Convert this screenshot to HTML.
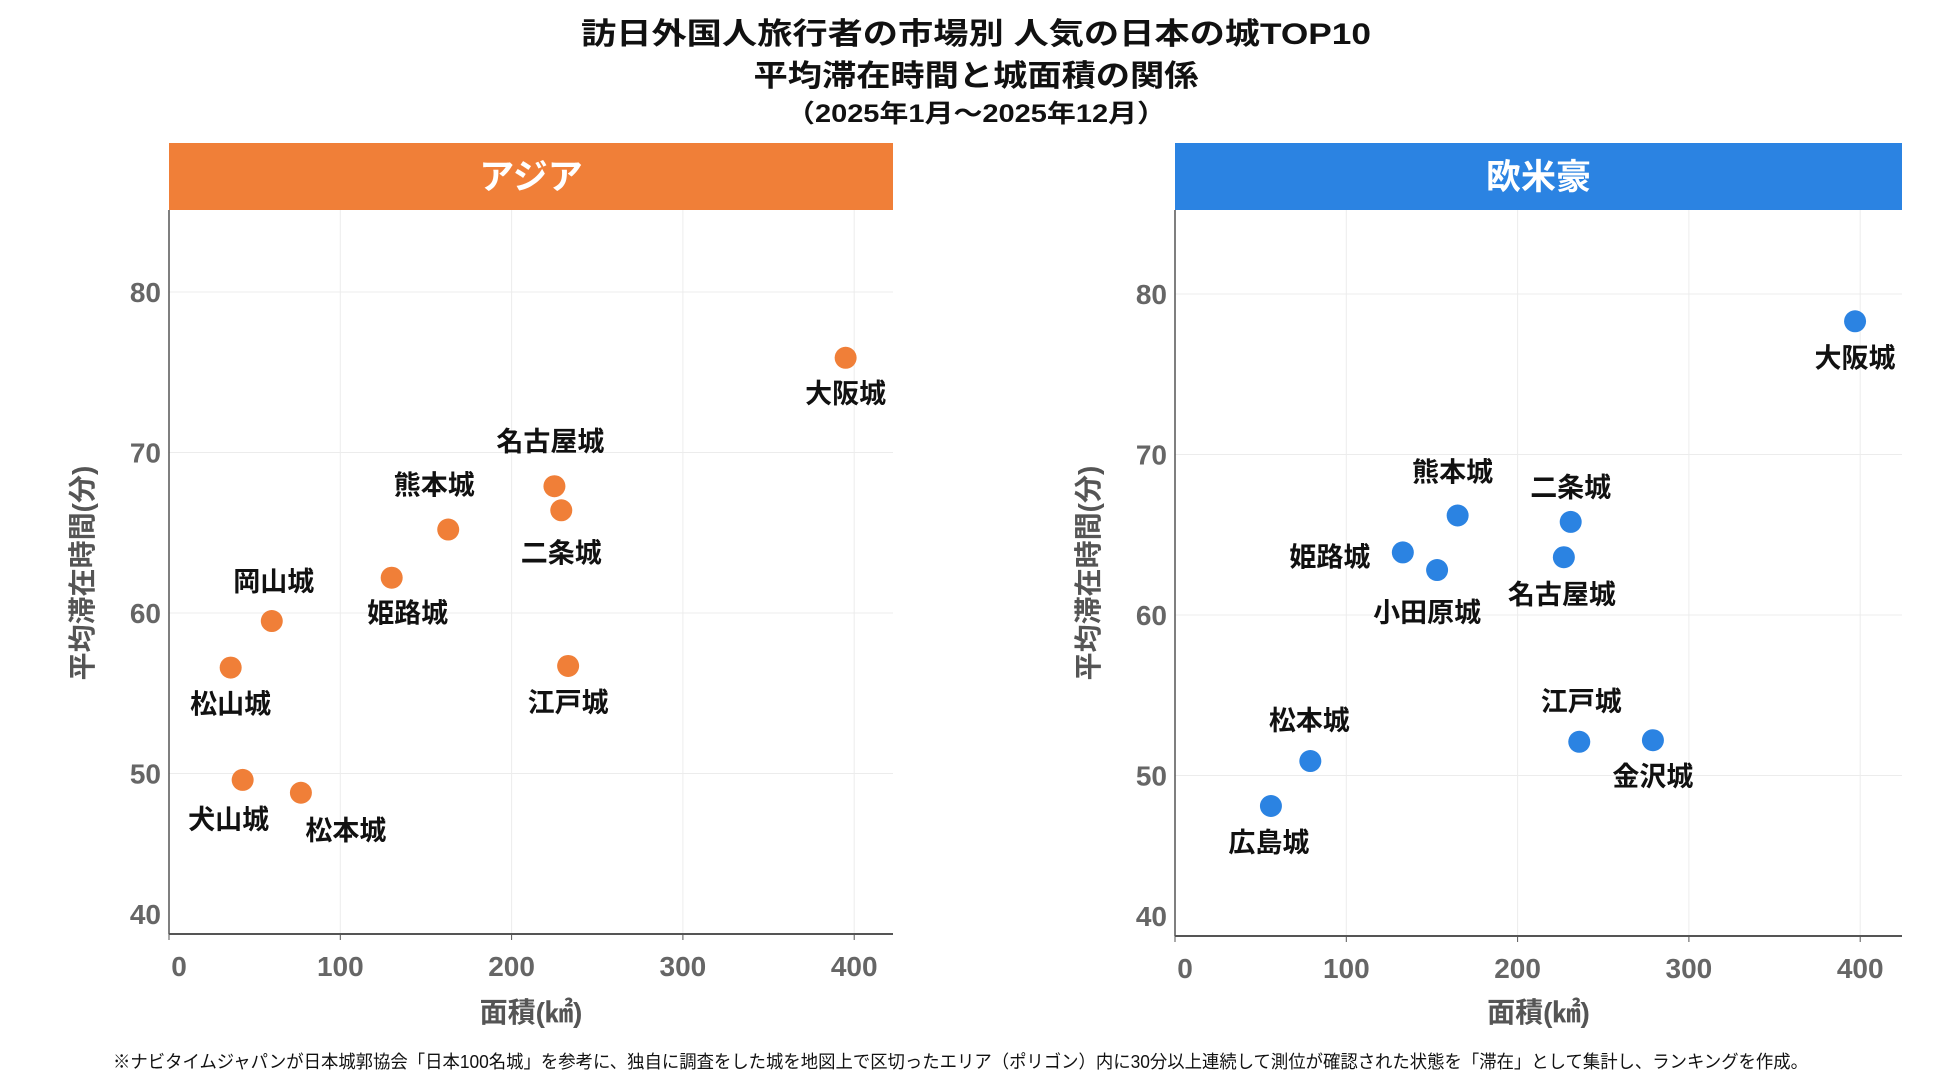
<!DOCTYPE html>
<html><head><meta charset="utf-8">
<style>
html,body{margin:0;padding:0;background:#fff;}
svg{display:block;font-family:"Liberation Sans","Noto Sans CJK JP",sans-serif;}
</style></head>
<body>
<svg id="chart" width="1948" height="1083" viewBox="0 0 1948 1083" xmlns="http://www.w3.org/2000/svg">
<text x="976" y="44" text-anchor="middle" font-size="30" font-weight="bold" fill="#111" textLength="790" lengthAdjust="spacingAndGlyphs">訪日外国人旅行者の市場別 人気の日本の城TOP10</text>
<text x="976" y="86" text-anchor="middle" font-size="30" font-weight="bold" fill="#111" textLength="445" lengthAdjust="spacingAndGlyphs">平均滞在時間と城面積の関係</text>
<text x="976" y="122" text-anchor="middle" font-size="25" font-weight="bold" fill="#111" textLength="380" lengthAdjust="spacingAndGlyphs">（2025年1月～2025年12月）</text>
<text x="113" y="1068" font-size="18" fill="#111" textLength="1695" lengthAdjust="spacingAndGlyphs">※ナビタイムジャパンが日本城郭協会「日本100名城」を参考に、独自に調査をした城を地図上で区切ったエリア（ポリゴン）内に30分以上連続して測位が確認された状態を「滞在」として集計し、ランキングを作成。</text>
</svg>
<script>
// Asia panel data
const asiaNames = ["大阪城","名古屋城","二条城","熊本城","姫路城","岡山城","松山城","江戸城","犬山城","松本城"];
const asiaArea = [395,225,229,163,130,60,36,233,43,77];
const asiaStay = [75.9,67.9,66.4,65.2,62.2,59.5,56.6,56.7,49.6,48.8];
// Europe/US/Australia panel data
const euNames = ["大阪城","熊本城","二条城","姫路城","名古屋城","小田原城","江戸城","金沢城","松本城","広島城"];
const euArea = [397,165,231,133,227,153,236,279,79,56];
const euStay = [78.3,66.2,65.8,63.9,63.6,62.8,52.1,52.2,50.9,48.1];
const xTicks = [0,100,200,300,400];
const yTicks = [40,50,60,70,80];

// label placement offsets (layout, px)
const asiaLabelOff = [[0,35],[-4,-45],[0,42],[-14,-45],[16,35],[2,-40],[0,36],[0,36],[-14,39],[45,37]];
const euLabelOff = [[0,36],[-5,-44],[0,-35],[-73,4],[-2,37],[-10,42],[2,-41],[0,36],[-1,-41],[-2,36]];

const NS = "http://www.w3.org/2000/svg";
const svg = document.getElementById('chart');
function mk(tag, attrs, parent){
  const e = document.createElementNS(NS, tag);
  for (const k in attrs) e.setAttribute(k, attrs[k]);
  (parent||svg).appendChild(e);
  return e;
}

function panel(cfg){
  const g = mk('g', {});
  
  
  const L = cfg.left, R = cfg.right, T = 210, B = cfg.bottom;
  const xs = v => L + v * 1.713;
  const ys = v => B - (v - 40) * 16.05;
  // header
  const hdr = mk('rect', {x:L, y:143, width:R-L, height:67, fill:cfg.color}, g);
  
  
  const ht = mk('text', {x:(L+R)/2, y:189, 'text-anchor':'middle', 'font-size':35, 'font-weight':'bold', fill:'#fff'}, g);
  ht.textContent = cfg.title;
  
  
  // grid
  xTicks.forEach(t => {
    if (t > 0) {
      const gl = mk('line', {x1:xs(t), x2:xs(t), y1:T, y2:B, stroke:'#ececec', 'stroke-width':1}, g);
      
      
    }
    const tk = mk('line', {x1:xs(t), x2:xs(t), y1:B, y2:B+6, stroke:'#555', 'stroke-width':1}, g);
    
    
    const tl = mk('text', {x:xs(t)+ (t===0?10:0), y:B+42, 'text-anchor':'middle', 'font-size':28, 'font-weight':'bold', fill:'#666'}, g);
    tl.textContent = t;
    
    
  });
  yTicks.forEach(t => {
    if (t > 40) {
      const gl = mk('line', {x1:L, x2:R, y1:ys(t), y2:ys(t), stroke:'#ececec', 'stroke-width':1}, g);
      
      
    }
    const tl = mk('text', {x:L-8, y:(t===40? ys(t)-10 : ys(t)+10), 'text-anchor':'end', 'font-size':28, 'font-weight':'bold', fill:'#666'}, g);
    tl.textContent = t;
    
    
  });
  const ax = mk('line', {x1:L, x2:L, y1:T, y2:B, stroke:'#555', 'stroke-width':1.5}, g);
  
  
  const bx = mk('line', {x1:L, x2:R, y1:B, y2:B, stroke:'#555', 'stroke-width':2}, g);
  
  
  const xt = mk('text', {x:(L+R)/2, y:1022, 'text-anchor':'middle', 'font-size':28, 'font-weight':'bold', fill:'#555'}, g);
  xt.textContent = '面積(㎢)';
  
  
  const yt = mk('text', {x:0, y:0, 'text-anchor':'middle', 'font-size':28, 'font-weight':'bold', fill:'#555', transform:'translate('+(L-77)+',573) rotate(-90)'}, g);
  yt.textContent = '平均滞在時間(分)';
  
  
  // points
  cfg.names.forEach((n, i) => {
    const cx = xs(cfg.area[i]), cy = ys(cfg.stay[i]);
    const c = mk('circle', {cx:cx, cy:cy, r:11, fill:cfg.color}, g);
    
    
    const o = cfg.off[i];
    const t = mk('text', {x:cx+o[0], y:cy+o[1]+10, 'text-anchor':'middle', 'font-size':27, 'font-weight':'bold', fill:'#111'}, g);
    t.textContent = n;
    
    
  });
}

panel({key:'asia', title:'アジア', color:'#f07f38', left:169, right:893, bottom:934,
  names:asiaNames, area:asiaArea, stay:asiaStay, off:asiaLabelOff});
panel({key:'western', title:'欧米豪', color:'#2b83e2', left:1175, right:1902, bottom:936,
  names:euNames, area:euArea, stay:euStay, off:euLabelOff});
</script>
</body></html>
